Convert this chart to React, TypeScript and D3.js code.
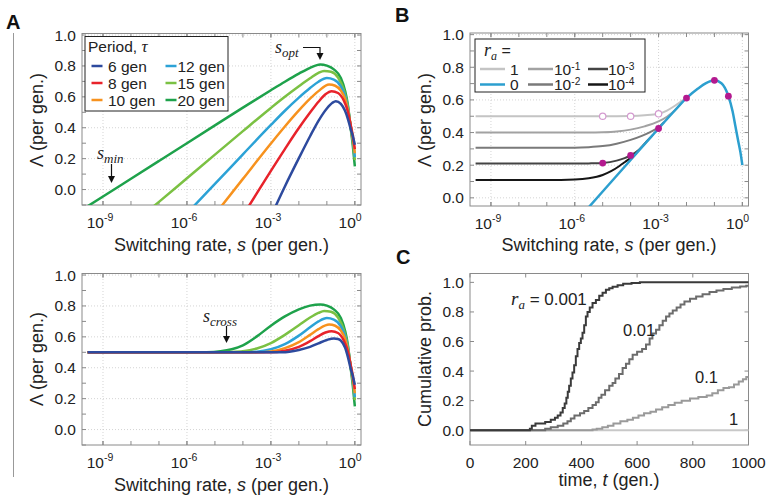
import React from 'react';
import * as d3 from 'd3';

// ---- data; curves are [log10(s), Λ] ----
const periodLabels = ['6 gen', '8 gen', '10 gen', '12 gen', '15 gen', '20 gen'];
const periodColors = ['#2d4a9e', '#e8232b', '#f7921e', '#2ca2d6', '#7bc143', '#1ea24b'];

// panel A, top (no initial advantage)
const topTau6 = [[-2.88, -0.127], [-2.5, 0.02], [-2, 0.203], [-1.6, 0.345], [-1.3, 0.445], [-1.0, 0.525], [-0.8, 0.562], [-0.68, 0.572], [-0.5, 0.555], [-0.35, 0.51], [-0.25, 0.458], [-0.15, 0.392], [-0.07, 0.345], [0, 0.29]];
const topTau8 = [[-3.85, -0.125], [-3.5, -0.023], [-3, 0.121], [-2.5, 0.262], [-2, 0.398], [-1.6, 0.498], [-1.3, 0.568], [-1.05, 0.617], [-0.83, 0.637], [-0.6, 0.625], [-0.4, 0.578], [-0.25, 0.505], [-0.15, 0.42], [-0.07, 0.345], [0, 0.262]];
const topTau10 = [[-4.9, -0.138], [-4, 0.069], [-3, 0.298], [-2.5, 0.408], [-2, 0.512], [-1.6, 0.588], [-1.3, 0.637], [-0.92, 0.68], [-0.7, 0.672], [-0.5, 0.64], [-0.35, 0.588], [-0.25, 0.518], [-0.15, 0.415], [-0.07, 0.33], [0, 0.235]];
const topTau12 = [[-5.9, -0.135], [-5, 0.036], [-4, 0.228], [-3, 0.418], [-2.5, 0.51], [-2, 0.595], [-1.6, 0.657], [-1.3, 0.698], [-1.0, 0.722], [-0.75, 0.712], [-0.5, 0.668], [-0.35, 0.605], [-0.25, 0.53], [-0.15, 0.41], [-0.07, 0.32], [0, 0.21]];
const topTau15 = [[-7.4, -0.14], [-7, -0.08], [-6, 0.073], [-5, 0.226], [-4, 0.378], [-3, 0.528], [-2.5, 0.6], [-2, 0.668], [-1.6, 0.72], [-1.3, 0.755], [-1.1, 0.768], [-0.85, 0.762], [-0.6, 0.725], [-0.4, 0.648], [-0.25, 0.54], [-0.15, 0.405], [-0.07, 0.305], [0, 0.19]];
const topTau20 = [[-9.75, -0.131], [-9, -0.045], [-8, 0.07], [-7, 0.185], [-6, 0.3], [-5, 0.415], [-4, 0.53], [-3, 0.643], [-2.5, 0.698], [-2, 0.75], [-1.6, 0.788], [-1.24, 0.81], [-1, 0.802], [-0.75, 0.778], [-0.5, 0.722], [-0.35, 0.64], [-0.25, 0.55], [-0.15, 0.4], [-0.07, 0.28], [0, 0.15]];

// panel A, bottom (start at Λ = 0.5)
const botTau6 = [[-9.55, 0.5], [-2.6, 0.5], [-2, 0.515], [-1.6, 0.535], [-1.3, 0.558], [-1.0, 0.58], [-0.75, 0.59], [-0.6, 0.586], [-0.5, 0.575], [-0.35, 0.53], [-0.25, 0.47], [-0.15, 0.395], [-0.07, 0.345], [0, 0.29]];
const botTau8 = [[-9.55, 0.5], [-3, 0.5], [-2.5, 0.51], [-2, 0.535], [-1.6, 0.572], [-1.3, 0.605], [-1.05, 0.628], [-0.83, 0.637], [-0.6, 0.625], [-0.4, 0.578], [-0.25, 0.505], [-0.15, 0.42], [-0.07, 0.345], [0, 0.262]];
const botTau10 = [[-9.55, 0.5], [-3.5, 0.5], [-3, 0.506], [-2.5, 0.527], [-2, 0.566], [-1.6, 0.613], [-1.3, 0.65], [-0.92, 0.68], [-0.7, 0.672], [-0.5, 0.64], [-0.35, 0.588], [-0.25, 0.518], [-0.15, 0.415], [-0.07, 0.33], [0, 0.235]];
const botTau12 = [[-9.55, 0.5], [-4, 0.5], [-3.5, 0.504], [-3, 0.52], [-2.5, 0.553], [-2, 0.608], [-1.6, 0.662], [-1.3, 0.7], [-1.0, 0.722], [-0.75, 0.712], [-0.5, 0.668], [-0.35, 0.605], [-0.25, 0.53], [-0.15, 0.41], [-0.07, 0.32], [0, 0.21]];
const botTau15 = [[-9.55, 0.5], [-5, 0.5], [-4.5, 0.502], [-4, 0.507], [-3.5, 0.525], [-3, 0.56], [-2.5, 0.613], [-2, 0.675], [-1.6, 0.725], [-1.3, 0.755], [-1.1, 0.768], [-0.85, 0.762], [-0.6, 0.725], [-0.4, 0.648], [-0.25, 0.54], [-0.15, 0.405], [-0.07, 0.305], [0, 0.19]];
const botTau20 = [[-9.55, 0.5], [-6, 0.5], [-5.3, 0.501], [-4.8, 0.507], [-4.4, 0.52], [-4, 0.545], [-3.5, 0.603], [-3, 0.672], [-2.5, 0.732], [-2, 0.778], [-1.6, 0.802], [-1.24, 0.81], [-1, 0.802], [-0.75, 0.778], [-0.5, 0.722], [-0.35, 0.64], [-0.25, 0.55], [-0.15, 0.4], [-0.07, 0.28], [0, 0.15]];

// panel B, τ = 12 with different r_a
const bLabels = ['1', '0', '10^-1', '10^-2', '10^-3', '10^-4'];
const bRate1 = [[-9.55, 0.5], [-6, 0.5], [-5, 0.5], [-4, 0.502], [-3.5, 0.506], [-3, 0.515], [-2.7, 0.535], [-2.4, 0.566], [-2.2, 0.59], [-2, 0.613], [-1.8, 0.642]];
const bRateE1 = [[-9.55, 0.4], [-5.5, 0.4], [-5, 0.402], [-4.5, 0.407], [-4, 0.418], [-3.5, 0.438], [-3, 0.468], [-2.7, 0.497], [-2.4, 0.538], [-2.2, 0.576]];
const bRateE2 = [[-9.55, 0.307], [-6, 0.307], [-5.5, 0.31], [-5, 0.317], [-4.5, 0.332], [-4, 0.355], [-3.6, 0.38], [-3.3, 0.403], [-3, 0.432], [-2.8, 0.465]];
const bRateE3 = [[-9.55, 0.21], [-6, 0.21], [-5.5, 0.211], [-5, 0.214], [-4.5, 0.228], [-4, 0.26], [-3.7, 0.295], [-3.4, 0.35], [-3.2, 0.386]];
const bRateE4 = [[-9.55, 0.11], [-6.5, 0.11], [-6, 0.112], [-5.5, 0.12], [-5, 0.14], [-4.7, 0.163], [-4.4, 0.195], [-4.2, 0.22], [-4, 0.245], [-3.8, 0.272]];
const bRate0 = [[-5.6, -0.077], [-5, 0.039], [-4, 0.232], [-3, 0.425], [-2.5, 0.52], [-2, 0.611], [-1.6, 0.668], [-1.3, 0.703], [-1.0, 0.72], [-0.75, 0.702], [-0.5, 0.623], [-0.35, 0.53], [-0.25, 0.44], [-0.15, 0.35], [-0.07, 0.28], [0, 0.2]];
const bFilledDots = [[-5, 0.213], [-4, 0.26], [-3, 0.425], [-2, 0.611], [-1, 0.72], [-0.5, 0.623]];
const bOpenDots = [[-5, 0.5], [-4, 0.5], [-3, 0.515]];

// panel C, cumulative probability of adaptation, [t, P]
const cRate1 = [[0, 0], [1000, 0]];
const cRate01 = [[0, 0], [440, 0.005], [455, 0.01], [475, 0.02], [495, 0.03], [515, 0.045], [540, 0.06], [565, 0.07], [585, 0.085], [605, 0.1], [625, 0.115], [648, 0.125], [668, 0.14], [690, 0.155], [712, 0.17], [735, 0.185], [760, 0.2], [790, 0.215], [820, 0.225], [850, 0.235], [870, 0.25], [890, 0.27], [910, 0.285], [930, 0.29], [948, 0.31], [965, 0.33], [980, 0.345], [992, 0.36], [1000, 0.36]];
const cRate001 = [[0, 0], [270, 0.01], [290, 0.02], [315, 0.03], [335, 0.045], [350, 0.06], [362, 0.08], [375, 0.1], [395, 0.115], [410, 0.13], [425, 0.15], [440, 0.17], [452, 0.19], [462, 0.22], [472, 0.24], [485, 0.27], [500, 0.3], [512, 0.32], [522, 0.35], [535, 0.38], [548, 0.42], [560, 0.45], [572, 0.48], [584, 0.51], [600, 0.53], [618, 0.55], [632, 0.58], [645, 0.62], [655, 0.655], [668, 0.68], [680, 0.71], [692, 0.74], [704, 0.77], [716, 0.79], [728, 0.81], [742, 0.83], [756, 0.85], [770, 0.87], [790, 0.89], [812, 0.905], [835, 0.92], [860, 0.935], [885, 0.945], [910, 0.955], [940, 0.965], [970, 0.972], [992, 0.977], [1000, 0.977]];
const cRate0001 = [[0, 0], [215, 0.01], [222, 0.03], [235, 0.045], [270, 0.055], [290, 0.07], [305, 0.085], [315, 0.1], [325, 0.12], [333, 0.15], [340, 0.18], [346, 0.22], [351, 0.26], [356, 0.3], [362, 0.35], [368, 0.39], [374, 0.44], [380, 0.5], [386, 0.55], [392, 0.59], [398, 0.62], [404, 0.66], [410, 0.71], [416, 0.77], [422, 0.8], [430, 0.83], [440, 0.86], [452, 0.88], [464, 0.91], [476, 0.93], [488, 0.95], [500, 0.96], [512, 0.97], [530, 0.98], [550, 0.99], [580, 0.995], [610, 1.0], [1000, 1.0]];

const logTicks = [-9, -6, -3, 0];
const decades = [-9, -8, -7, -6, -5, -4, -3, -2, -1, 0];
const lambdaTicks = [0, 0.2, 0.4, 0.6, 0.8, 1.0];
const lambdaMinor = [-0.1, 0.1, 0.3, 0.5, 0.7, 0.9];
const timeTicks = [0, 200, 400, 600, 800, 1000];

const SANS = '"Liberation Sans", Arial, sans-serif';
const SERIF = '"Liberation Serif", "Times New Roman", serif';
const BOX = '#8a8a8a';

function Frame({ x, y, xMajor, xMinor, yMajor, yMinor, grid, logLabels, yFmt, xFmt }: any) {
  const [x0, x1] = x.range();
  const [y0, y1] = y.range();
  const tk = 4;
  const allX = [...xMajor, ...(xMinor || [])];
  const allY = [...yMajor, ...(yMinor || [])].filter((v: number) => y(v) <= y0 && y(v) >= y1);
  return (
    <g>
      <rect x={x0} y={y1} width={x1 - x0} height={y0 - y1} fill="#fff" />
      {grid && xMajor.map((v: number) => (
        <line key={'gx' + v} x1={x(v)} x2={x(v)} y1={y0} y2={y1} stroke="#c9c9c9" strokeWidth={0.8} strokeDasharray="1,2" />
      ))}
      {grid && yMajor.map((v: number) => (
        <line key={'gy' + v} x1={x0} x2={x1} y1={y(v)} y2={y(v)} stroke="#c9c9c9" strokeWidth={0.8} strokeDasharray="1,2" />
      ))}
      {allX.map((v: number, i: number) => (
        <g key={'tx' + i}>
          <line x1={x(v)} x2={x(v)} y1={y0} y2={y0 - tk} stroke={BOX} />
          <line x1={x(v)} x2={x(v)} y1={y1} y2={y1 + tk} stroke={BOX} />
        </g>
      ))}
      {allY.map((v: number, i: number) => (
        <g key={'ty' + i}>
          <line x1={x0} x2={x0 + tk} y1={y(v)} y2={y(v)} stroke={BOX} />
          <line x1={x1} x2={x1 - tk} y1={y(v)} y2={y(v)} stroke={BOX} />
        </g>
      ))}
      <rect x={x0} y={y1} width={x1 - x0} height={y0 - y1} fill="none" stroke={BOX} strokeWidth={1} />
      {yMajor.map((v: number) => (
        <text key={'ly' + v} x={x0 - 6} y={y(v) + 5.5} textAnchor="end" fontSize={15.5} fill="#222">{yFmt(v)}</text>
      ))}
      {logLabels
        ? xMajor.map((v: number) => {
            const e = Math.round(Math.log10(v));
            return (
              <g key={'lx' + e}>
                <text x={x(v) + 1} y={y0 + 22.5} textAnchor="end" fontSize={15.5} fill="#222">10</text>
                <text x={x(v) + 1} y={y0 + 16} fontSize={10.5} fill="#222">{String(e)}</text>
              </g>
            );
          })
        : xMajor.map((v: number) => (
            <text key={'lx' + v} x={x(v)} y={y0 + 23} textAnchor="middle" fontSize={15.5} fill="#222">{xFmt(v)}</text>
          ))}
    </g>
  );
}

function SupLabel({ x, y, label, size = 15.5 }: any) {
  const parts = label.split('^');
  return (
    <text x={x} y={y} fontSize={size} fill="#222">
      {parts[0]}
      {parts[1] && <tspan fontSize={size * 0.66} dy={-5}>{parts[1]}</tspan>}
    </text>
  );
}

function Arrow({ points }: { points: number[][] }) {
  const [ex, ey] = points[points.length - 1];
  return (
    <g>
      <polyline points={points.slice(0, -1).concat([[ex, ey - 5]]).map((p) => p.join(',')).join(' ')} fill="none" stroke="#111" strokeWidth={1.2} />
      <path d={`M${ex - 3.5},${ey - 7} L${ex + 3.5},${ey - 7} L${ex},${ey} Z`} fill="#111" />
    </g>
  );
}

export default function App() {
  const sDomain = [10 ** -9.75, 10 ** 0.22];
  const xA = d3.scaleLog().domain(sDomain).range([82, 361]);
  const xB = d3.scaleLog().domain(sDomain).range([470, 748.5]);
  const yTop = d3.scaleLinear().domain([-0.1, 1.01]).range([205, 33.5]);
  const yBot = d3.scaleLinear().domain([-0.1, 1.01]).range([445, 273.5]);
  const yB = d3.scaleLinear().domain([-0.05, 1.01]).range([206, 33]);
  const xC = d3.scaleLinear().domain([0, 1000]).range([470, 748.5]);
  const yC = d3.scaleLinear().domain([-0.1, 1.06]).range([445, 273.5]);

  const curve = (xs: any, ys: any) =>
    d3.line<number[]>().x((d) => xs(10 ** d[0])).y((d) => ys(d[1])).curve(d3.curveMonotoneX);
  const step = d3.line<number[]>().x((d) => xC(d[0])).y((d) => yC(d[1])).curve(d3.curveStepAfter);

  const topCurves = [topTau6, topTau8, topTau10, topTau12, topTau15, topTau20];
  const botCurves = [botTau6, botTau8, botTau10, botTau12, botTau15, botTau20];
  const order = [5, 4, 3, 2, 1, 0];
  const fmt1 = (v: number) => v.toFixed(1);
  const decadeVals = decades.map((e) => 10 ** e);
  const logVals = logTicks.map((e) => 10 ** e);

  const bGray = [
    { d: bRate1, c: '#c4c4c4' },
    { d: bRateE1, c: '#a2a2a2' },
    { d: bRateE2, c: '#7a7a7a' },
    { d: bRateE3, c: '#444' },
    { d: bRateE4, c: '#161616' },
  ];
  const bLegendColors = ['#c4c4c4', '#2c9fcf', '#a2a2a2', '#7a7a7a', '#444', '#161616'];

  const lineA = curve(xA, yTop);
  const lineAb = curve(xA, yBot);
  const lineB = curve(xB, yB);

  return (
    <svg width={770} height={501} style={{ position: 'absolute', left: 0, top: 0, background: '#fff' }} fontFamily={SANS}>
      <defs>
        <clipPath id="clipAt"><rect x={82} y={33.5} width={279} height={171.5} /></clipPath>
        <clipPath id="clipAb"><rect x={82} y={273.5} width={279} height={171.5} /></clipPath>
        <clipPath id="clipB"><rect x={470} y={33} width={278.5} height={173} /></clipPath>
      </defs>
      <rect width={770} height={501} fill="#fff" />
      <line x1={13.5} x2={13.5} y1={33} y2={477} stroke="#999" strokeWidth={1} />

      {/* panel letters */}
      <text x={6} y={29} fontSize={20} fontWeight="bold" fill="#111">A</text>
      <text x={395} y={22} fontSize={20} fontWeight="bold" fill="#111">B</text>
      <text x={396} y={264} fontSize={20} fontWeight="bold" fill="#111">C</text>

      {/* ---- A top ---- */}
      <Frame x={xA} y={yTop} xMajor={logVals} xMinor={decadeVals} yMajor={lambdaTicks} yMinor={lambdaMinor} grid logLabels yFmt={fmt1} />
      <g clipPath="url(#clipAt)">
        {order.map((i) => (
          <path key={i} d={lineA(topCurves[i] as any) || ''} fill="none" stroke={periodColors[i]} strokeWidth={2.5} />
        ))}
      </g>
      <rect x={85} y={36.5} width={143} height={74.5} fill="#fff" stroke="#222" strokeWidth={1} />
      <text x={88} y={52} fontSize={15.5} fill="#222">
        Period, <tspan fontFamily={SERIF} fontStyle="italic" fontSize={17}>τ</tspan>
      </text>
      {periodLabels.map((lab, i) => {
        const col = Math.floor(i / 3);
        const cy = 66 + (i % 3) * 17;
        const lx = col === 0 ? 91.5 : 165.5;
        const tx = col === 0 ? 108 : 177.5;
        return (
          <g key={lab}>
            <line x1={lx} x2={lx + 11} y1={cy} y2={cy} stroke={periodColors[i]} strokeWidth={2.5} />
            <text x={tx} y={cy + 5.5} fontSize={15.5} fill="#222">{lab}</text>
          </g>
        );
      })}
      <text x={275} y={53} fontFamily={SERIF} fontStyle="italic" fontSize={18} fill="#222">
        s<tspan fontSize={13} dy={4}>opt</tspan>
      </text>
      <Arrow points={[[303, 47.5], [320, 47.5], [320, 60]]} />
      <text x={97} y={159} fontFamily={SERIF} fontStyle="italic" fontSize={18} fill="#222">
        s<tspan fontSize={13} dy={4}>min</tspan>
      </text>
      <Arrow points={[[111.5, 164], [111.5, 183]]} />
      <text transform="translate(43,120) rotate(-90)" textAnchor="middle" fontSize={18} fill="#222">Λ (per gen.)</text>
      <text x={221.5} y={251} textAnchor="middle" fontSize={18} fill="#222">
        Switching rate, <tspan fontStyle="italic">s</tspan> (per gen.)
      </text>

      {/* ---- A bottom ---- */}
      <Frame x={xA} y={yBot} xMajor={logVals} xMinor={decadeVals} yMajor={lambdaTicks} yMinor={lambdaMinor} grid logLabels yFmt={fmt1} />
      <g clipPath="url(#clipAb)">
        {order.map((i) => (
          <path key={i} d={lineAb(botCurves[i] as any) || ''} fill="none" stroke={periodColors[i]} strokeWidth={2.5} />
        ))}
      </g>
      <text x={203} y={321.5} fontFamily={SERIF} fontStyle="italic" fontSize={18} fill="#222">
        s<tspan fontSize={13} dy={4}>cross</tspan>
      </text>
      <Arrow points={[[226.5, 326], [226.5, 343]]} />
      <text transform="translate(43,359) rotate(-90)" textAnchor="middle" fontSize={18} fill="#222">Λ (per gen.)</text>
      <text x={221.5} y={491} textAnchor="middle" fontSize={18} fill="#222">
        Switching rate, <tspan fontStyle="italic">s</tspan> (per gen.)
      </text>

      {/* ---- B ---- */}
      <Frame x={xB} y={yB} xMajor={logVals} xMinor={decadeVals} yMajor={lambdaTicks} yMinor={lambdaMinor} grid logLabels yFmt={fmt1} />
      <g clipPath="url(#clipB)">
        {bGray.map((g, i) => (
          <path key={i} d={lineB(g.d as any) || ''} fill="none" stroke={g.c} strokeWidth={2} />
        ))}
        <path d={lineB(bRate0 as any) || ''} fill="none" stroke="#2c9fcf" strokeWidth={2.5} />
        {bOpenDots.map((p, i) => (
          <circle key={'o' + i} cx={xB(10 ** p[0])} cy={yB(p[1])} r={3.2} fill="#fff" stroke="#d49bd0" strokeWidth={1.2} />
        ))}
        {bFilledDots.map((p, i) => (
          <circle key={'f' + i} cx={xB(10 ** p[0])} cy={yB(p[1])} r={3.4} fill="#b4198f" />
        ))}
      </g>
      <rect x={475} y={39} width={170} height={53} fill="#fff" stroke="#222" strokeWidth={1} />
      <text x={484} y={56} fontSize={16} fill="#222">
        <tspan fontFamily={SERIF} fontStyle="italic" fontSize={18}>r</tspan>
        <tspan fontFamily={SERIF} fontStyle="italic" fontSize={12} dy={4}>a</tspan>
        <tspan dy={-4}> =</tspan>
      </text>
      {bLabels.map((lab, i) => {
        const col = Math.floor(i / 2);
        const cy = 69 + (i % 2) * 15.5;
        const lx = [480, 528, 588][col];
        const lw = [25, 25, 20][col];
        const tx = [510, 554, 608][col];
        return (
          <g key={lab}>
            <line x1={lx} x2={lx + lw} y1={cy} y2={cy} stroke={bLegendColors[i]} strokeWidth={2.5} />
            <SupLabel x={tx} y={cy + 5.5} label={lab} size={15.5} />
          </g>
        );
      })}
      <text transform="translate(431,120) rotate(-90)" textAnchor="middle" fontSize={18} fill="#222">Λ (per gen.)</text>
      <text x={609} y={251} textAnchor="middle" fontSize={18} fill="#222">
        Switching rate, <tspan fontStyle="italic">s</tspan> (per gen.)
      </text>

      {/* ---- C ---- */}
      <Frame x={xC} y={yC} xMajor={timeTicks} yMajor={lambdaTicks} xFmt={(v: number) => String(v)} yFmt={fmt1} />
      <path d={step(cRate1 as any) || ''} fill="none" stroke="#c8c8c8" strokeWidth={2} />
      <path d={step(cRate01 as any) || ''} fill="none" stroke="#9a9a9a" strokeWidth={2} />
      <path d={step(cRate001 as any) || ''} fill="none" stroke="#6c6c6c" strokeWidth={2} />
      <path d={step(cRate0001 as any) || ''} fill="none" stroke="#3a3a3a" strokeWidth={2} />
      <text x={511} y={305} fontSize={17} fill="#222">
        <tspan fontFamily={SERIF} fontStyle="italic" fontSize={19}>r</tspan>
        <tspan fontFamily={SERIF} fontStyle="italic" fontSize={13} dy={4}>a</tspan>
        <tspan dy={-4}> = 0.001</tspan>
      </text>
      <text x={623} y={336} fontSize={16.5} fill="#222">0.01</text>
      <text x={695} y={383} fontSize={16.5} fill="#222">0.1</text>
      <text x={729} y={425} fontSize={16.5} fill="#222">1</text>
      <text transform="translate(431,359) rotate(-90)" textAnchor="middle" fontSize={18} fill="#222">Cumulative prob.</text>
      <text x={609} y={486} textAnchor="middle" fontSize={18} fill="#222">
        time, <tspan fontStyle="italic">t</tspan> (gen.)
      </text>
    </svg>
  );
}
